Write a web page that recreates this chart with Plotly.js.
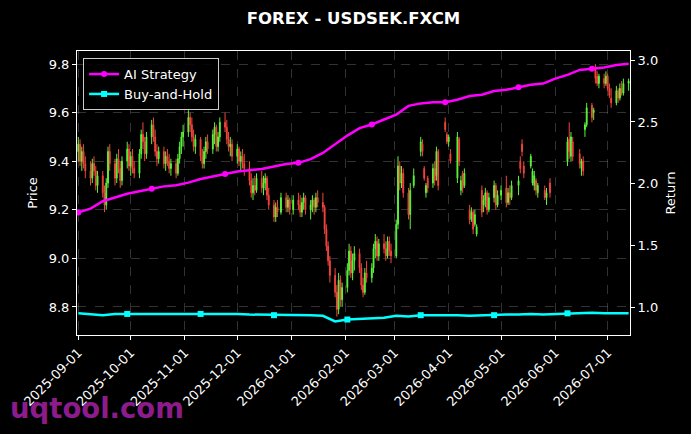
<!DOCTYPE html>
<html><head><meta charset="utf-8">
<script src="https://cdn.plot.ly/plotly-3.0.1.min.js"></script>
<style>html,body{margin:0;padding:0;background:#000;}</style>
</head><body><div id="chart" style="width:691px;height:434px;"></div>
<script>
// ---- Candle data (daily) ----
const dates = [
 '2025-09-01','2025-09-02','2025-09-03','2025-09-04','2025-09-05',
 '2025-09-08','2025-09-09','2025-09-10','2025-09-11','2025-09-12',
 '2025-09-15','2025-09-16','2025-09-17','2025-09-18','2025-09-19',
 '2025-09-22','2025-09-23','2025-09-24','2025-09-25','2025-09-26',
 '2025-09-29','2025-09-30','2025-10-01','2025-10-02','2025-10-03',
 '2025-10-06','2025-10-07','2025-10-08','2025-10-09','2025-10-10',
 '2025-10-13','2025-10-14','2025-10-15','2025-10-16','2025-10-17',
 '2025-10-20','2025-10-21','2025-10-22','2025-10-23','2025-10-24',
 '2025-10-27','2025-10-28','2025-10-29','2025-10-30','2025-10-31',
 '2025-11-03','2025-11-04','2025-11-05','2025-11-06','2025-11-07',
 '2025-11-10','2025-11-11','2025-11-12','2025-11-13','2025-11-14',
 '2025-11-17','2025-11-18','2025-11-19','2025-11-20','2025-11-21',
 '2025-11-24','2025-11-25','2025-11-26','2025-11-27','2025-11-28',
 '2025-12-01','2025-12-02','2025-12-03','2025-12-04','2025-12-05',
 '2025-12-08','2025-12-09','2025-12-10','2025-12-11','2025-12-12',
 '2025-12-15','2025-12-16','2025-12-17','2025-12-18','2025-12-19',
 '2025-12-22','2025-12-23','2025-12-24','2025-12-26',
 '2025-12-29','2025-12-30','2025-12-31','2026-01-02',
 '2026-01-05','2026-01-06','2026-01-07','2026-01-08','2026-01-09',
 '2026-01-12','2026-01-13','2026-01-14','2026-01-15','2026-01-16',
 '2026-01-19','2026-01-20','2026-01-21','2026-01-22','2026-01-23',
 '2026-01-26','2026-01-27','2026-01-28','2026-01-29','2026-01-30',
 '2026-02-02','2026-02-03','2026-02-04','2026-02-05','2026-02-06',
 '2026-02-09','2026-02-10','2026-02-11','2026-02-12','2026-02-13',
 '2026-02-16','2026-02-17','2026-02-18','2026-02-19','2026-02-20',
 '2026-02-23','2026-02-24','2026-02-25','2026-02-26','2026-02-27',
 '2026-03-02','2026-03-03','2026-03-04','2026-03-05','2026-03-06',
 '2026-03-09','2026-03-10','2026-03-12',
 '2026-03-16','2026-03-17','2026-03-18','2026-03-19','2026-03-20',
 '2026-03-23','2026-03-24','2026-03-25','2026-03-26',
 '2026-03-30','2026-03-31','2026-04-01','2026-04-02',
 '2026-04-06','2026-04-07','2026-04-08','2026-04-09','2026-04-10',
 '2026-04-13','2026-04-14','2026-04-15','2026-04-16','2026-04-17',
 '2026-04-20','2026-04-21','2026-04-22','2026-04-23','2026-04-24',
 '2026-04-27','2026-04-28','2026-04-29','2026-05-01',
 '2026-05-04','2026-05-05','2026-05-06','2026-05-07',
 '2026-05-11','2026-05-12','2026-05-13','2026-05-14',
 '2026-05-18','2026-05-19','2026-05-20','2026-05-21','2026-05-22',
 '2026-05-26','2026-05-27','2026-05-29',
 '2026-06-08','2026-06-09','2026-06-10','2026-06-11',
 '2026-06-15','2026-06-16','2026-06-17','2026-06-18','2026-06-19',
 '2026-06-22','2026-06-23','2026-06-24','2026-06-25','2026-06-26',
 '2026-06-29','2026-06-30','2026-07-01','2026-07-02','2026-07-03',
 '2026-07-06','2026-07-07','2026-07-08','2026-07-09','2026-07-10','2026-07-13'
];
const open = [
 9.44,9.47,9.40,9.44,9.39,
 9.36,9.33,9.39,9.36,9.30,
 9.34,9.27,9.22,9.31,9.44,
 9.39,9.33,9.41,9.37,9.32,
 9.40,9.45,9.38,9.42,9.37,
 9.35,9.43,9.51,9.48,9.43,
 9.50,9.55,9.50,9.44,9.41,
 9.44,9.39,9.42,9.40,9.37,
 9.39,9.35,9.41,9.46,9.50,
 9.52,9.58,9.55,9.50,9.46,
 9.49,9.42,9.39,9.44,9.48,
 9.45,9.51,9.54,9.46,9.50,
 9.56,9.54,9.49,9.46,9.47,
 9.42,9.45,9.40,9.42,9.39,
 9.37,9.32,9.27,9.30,9.28,
 9.33,9.29,9.31,9.33,9.26,
 9.22,9.17,9.21,9.19,
 9.25,9.21,9.24,9.20,
 9.24,9.22,9.19,9.23,9.25,
 9.20,9.22,9.24,9.21,9.25,
 9.23,9.21,9.12,9.05,8.99,
 8.93,8.86,8.79,8.91,8.83,
 8.88,8.95,9.03,8.94,8.99,
 9.02,8.96,8.89,8.86,8.94,
 8.92,8.96,9.04,9.07,9.01,
 9.06,9.04,9.01,9.07,9.03,
 9.01,9.14,9.38,9.31,9.35,
 9.27,9.18,9.30,
 9.44,9.47,9.37,9.27,9.33,
 9.31,9.37,9.34,9.44,
 9.56,9.51,9.48,9.43,
 9.33,9.49,9.28,9.35,9.30,
 9.20,9.16,9.19,9.14,9.10,
 9.28,9.22,9.24,9.27,9.20,
 9.25,9.30,9.22,9.26,
 9.29,9.23,9.27,9.25,
 9.30,9.40,9.47,9.38,
 9.38,9.31,9.30,9.32,9.27,
 9.28,9.25,9.31,
 9.40,9.49,9.42,9.48,
 9.43,9.37,9.40,9.53,9.55,
 9.63,9.60,9.78,9.75,9.72,
 9.74,9.72,9.75,9.70,9.66,
 9.64,9.69,9.66,9.70,9.68,9.72
];
const high = [
 9.50,9.49,9.46,9.47,9.42,
 9.40,9.41,9.42,9.38,9.36,
 9.36,9.30,9.33,9.46,9.47,
 9.41,9.43,9.45,9.40,9.42,
 9.48,9.47,9.44,9.45,9.40,
 9.45,9.53,9.56,9.50,9.52,
 9.57,9.58,9.53,9.47,9.46,
 9.46,9.44,9.45,9.43,9.41,
 9.41,9.43,9.48,9.52,9.55,
 9.61,9.60,9.58,9.53,9.51,
 9.50,9.45,9.46,9.50,9.51,
 9.53,9.56,9.55,9.52,9.58,
 9.60,9.57,9.52,9.50,9.49,
 9.47,9.46,9.44,9.45,9.43,
 9.40,9.35,9.33,9.34,9.35,
 9.36,9.34,9.35,9.34,9.29,
 9.24,9.23,9.24,9.27,
 9.27,9.26,9.25,9.26,
 9.27,9.26,9.25,9.27,9.26,
 9.24,9.26,9.25,9.27,9.28,
 9.27,9.22,9.14,9.07,9.01,
 8.96,8.89,8.94,8.93,8.90,
 8.98,9.06,9.05,9.02,9.05,
 9.04,8.98,8.92,8.96,8.99,
 8.98,9.06,9.10,9.09,9.08,
 9.10,9.07,9.09,9.09,9.06,
 9.16,9.42,9.40,9.38,9.37,
 9.29,9.31,9.37,
 9.50,9.49,9.38,9.31,9.34,
 9.39,9.40,9.46,9.45,
 9.58,9.52,9.51,9.45,
 9.52,9.50,9.34,9.36,9.37,
 9.22,9.21,9.20,9.20,9.14,
 9.30,9.26,9.29,9.28,9.27,
 9.32,9.31,9.28,9.30,
 9.34,9.29,9.30,9.32,
 9.34,9.42,9.49,9.40,
 9.43,9.37,9.36,9.33,9.31,
 9.30,9.29,9.33,
 9.50,9.56,9.52,9.50,
 9.45,9.41,9.42,9.56,9.64,
 9.64,9.62,9.80,9.77,9.76,
 9.76,9.77,9.76,9.72,9.70,
 9.71,9.70,9.72,9.73,9.74,9.74
];
const low = [
 9.40,9.38,9.36,9.37,9.33,
 9.30,9.31,9.34,9.28,9.27,
 9.25,9.19,9.20,9.29,9.36,
 9.30,9.31,9.35,9.29,9.30,
 9.37,9.36,9.34,9.35,9.33,
 9.33,9.41,9.45,9.40,9.41,
 9.47,9.48,9.42,9.38,9.39,
 9.37,9.36,9.38,9.35,9.34,
 9.33,9.34,9.39,9.43,9.46,
 9.50,9.52,9.48,9.44,9.43,
 9.40,9.37,9.37,9.41,9.43,
 9.43,9.47,9.44,9.44,9.48,
 9.52,9.47,9.44,9.42,9.40,
 9.39,9.38,9.36,9.37,9.34,
 9.30,9.25,9.24,9.26,9.27,
 9.27,9.26,9.28,9.24,9.20,
 9.15,9.15,9.17,9.18,
 9.19,9.19,9.18,9.18,
 9.20,9.17,9.17,9.20,9.18,
 9.16,9.19,9.18,9.19,9.21,
 9.19,9.10,9.03,8.97,8.90,
 8.84,8.76,8.77,8.80,8.80,
 8.86,8.93,8.92,8.91,8.95,
 8.94,8.87,8.84,8.85,8.90,
 8.90,8.94,9.00,8.99,8.99,
 9.02,8.99,9.00,9.01,8.98,
 9.00,9.12,9.28,9.29,9.25,
 9.16,9.12,9.29,
 9.42,9.42,9.32,9.25,9.27,
 9.29,9.30,9.32,9.28,
 9.52,9.47,9.46,9.39,
 9.31,9.38,9.26,9.27,9.29,
 9.14,9.15,9.10,9.13,9.09,
 9.17,9.19,9.21,9.18,9.19,
 9.23,9.20,9.21,9.24,
 9.21,9.22,9.22,9.24,
 9.26,9.35,9.42,9.33,
 9.37,9.30,9.28,9.26,9.25,
 9.24,9.22,9.25,
 9.38,9.41,9.40,9.40,
 9.37,9.34,9.34,9.50,9.54,
 9.56,9.57,9.72,9.71,9.70,
 9.70,9.71,9.69,9.66,9.62,
 9.63,9.64,9.65,9.67,9.67,9.69
];
const close = [
 9.47,9.40,9.44,9.39,9.36,
 9.33,9.39,9.36,9.30,9.34,
 9.27,9.22,9.31,9.44,9.39,
 9.33,9.41,9.37,9.32,9.40,
 9.45,9.38,9.42,9.37,9.35,
 9.43,9.51,9.48,9.43,9.50,
 9.55,9.50,9.44,9.41,9.44,
 9.39,9.42,9.40,9.37,9.39,
 9.35,9.41,9.46,9.50,9.52,
 9.58,9.55,9.50,9.46,9.49,
 9.42,9.39,9.44,9.48,9.45,
 9.51,9.54,9.46,9.50,9.56,
 9.54,9.49,9.46,9.47,9.42,
 9.45,9.40,9.42,9.39,9.37,
 9.32,9.27,9.30,9.28,9.33,
 9.29,9.31,9.33,9.26,9.22,
 9.17,9.21,9.19,9.25,
 9.21,9.24,9.20,9.24,
 9.22,9.19,9.23,9.25,9.20,
 9.22,9.24,9.21,9.25,9.23,
 9.21,9.12,9.05,8.99,8.93,
 8.86,8.79,8.91,8.83,8.88,
 8.95,9.03,8.94,8.99,9.02,
 8.96,8.89,8.86,8.94,8.92,
 8.96,9.04,9.07,9.01,9.06,
 9.04,9.01,9.07,9.03,9.01,
 9.14,9.38,9.31,9.35,9.27,
 9.18,9.28,9.34,
 9.48,9.44,9.33,9.30,9.29,
 9.37,9.32,9.44,9.30,
 9.53,9.48,9.50,9.40,
 9.50,9.40,9.32,9.29,9.35,
 9.16,9.19,9.12,9.18,9.13,
 9.19,9.24,9.27,9.20,9.25,
 9.30,9.22,9.26,9.28,
 9.23,9.27,9.25,9.30,
 9.32,9.37,9.44,9.35,
 9.42,9.36,9.34,9.28,9.30,
 9.25,9.27,9.27,
 9.48,9.44,9.50,9.42,
 9.39,9.40,9.36,9.55,9.62,
 9.58,9.61,9.74,9.72,9.75,
 9.72,9.75,9.70,9.67,9.64,
 9.69,9.66,9.70,9.68,9.72,9.73
];

// ---- Strategy returns (weekly) ----
const lineDates = [
 '2025-09-01','2025-09-08','2025-09-15','2025-09-22','2025-09-29','2025-10-06','2025-10-13','2025-10-20','2025-10-27',
 '2025-11-03','2025-11-10','2025-11-17','2025-11-24','2025-12-01','2025-12-08','2025-12-15','2025-12-22','2025-12-29',
 '2026-01-05','2026-01-12','2026-01-19','2026-01-26','2026-02-02','2026-02-09','2026-02-16','2026-02-23',
 '2026-03-02','2026-03-09','2026-03-16','2026-03-23','2026-03-30','2026-04-06','2026-04-13','2026-04-20','2026-04-27',
 '2026-05-04','2026-05-11','2026-05-18','2026-05-25','2026-06-01','2026-06-08','2026-06-15','2026-06-22','2026-06-29',
 '2026-07-06','2026-07-13'
];
const aiStrategy = [
 1.77,1.80,1.86,1.89,1.92,1.94,1.96,1.98,1.99,
 2.01,2.04,2.06,2.08,2.10,2.11,2.12,2.14,2.16,
 2.17,2.20,2.25,2.32,2.39,2.45,2.48,2.52,
 2.56,2.63,2.65,2.66,2.66,2.68,2.71,2.72,2.75,
 2.76,2.78,2.80,2.81,2.85,2.88,2.92,2.93,2.94,
 2.96,2.97
];
const buyHold = [
 0.955,0.950,0.940,0.950,0.950,0.955,0.955,0.950,0.950,
 0.955,0.950,0.955,0.955,0.950,0.945,0.945,0.940,0.940,
 0.940,0.940,0.935,0.890,0.905,0.910,0.915,0.920,
 0.935,0.930,0.940,0.940,0.945,0.940,0.935,0.940,0.940,
 0.945,0.945,0.950,0.945,0.950,0.955,0.960,0.960,0.955,
 0.955,0.955
];

// ---- Axis ticks ----
const monthTicks = ['2025-09-01','2025-10-01','2025-11-01','2025-12-01','2026-01-01','2026-02-01','2026-03-01','2026-04-01','2026-05-01','2026-06-01','2026-07-01'];
const priceTicks = [8.8, 9.0, 9.2, 9.4, 9.6, 9.8];
const returnTicks = [1.0, 1.5, 2.0, 2.5, 3.0];

const GREEN = '#5cf53c', RED = '#f5443c';
const traces = [
  {type:'candlestick', x:dates, open:open, high:high, low:low, close:close,
   increasing:{line:{color:GREEN, width:1}, fillcolor:GREEN},
   decreasing:{line:{color:RED, width:1}, fillcolor:RED},
   showlegend:false, hoverinfo:'skip', yaxis:'y', xaxis:'x'},
  {type:'scatter', mode:'lines+markers', name:'AI Strategy', x:lineDates, y:aiStrategy, yaxis:'y2',
   line:{color:'#ff00ff', width:2.5}, marker:{symbol:'circle', size:6, color:'#ff00ff', maxdisplayed:8}},
  {type:'scatter', mode:'lines+markers', name:'Buy-and-Hold', x:lineDates, y:buyHold, yaxis:'y2',
   line:{color:'#00ffff', width:2.5}, marker:{symbol:'square', size:6, color:'#00ffff', maxdisplayed:8}}
];

const gridC = 'rgba(130,130,130,0.55)';
const layout = {
  width:691, height:434,
  paper_bgcolor:'#000', plot_bgcolor:'#000',
  margin:{l:77, r:61, t:51, b:99},
  font:{family:'DejaVu Sans', size:13, color:'#ffffff'},
  title:{text:'<b>FOREX - USDSEK.FXCM</b>', font:{family:'DejaVu Sans', size:16.5, color:'#ffffff'},
         xref:'paper', x:0.5, xanchor:'center', yref:'container', y:1-18/434, yanchor:'middle'},
  showlegend:true,
  legend:{x:0.011, y:0.975, xanchor:'left', yanchor:'top', bgcolor:'rgba(0,0,0,0.85)',
          bordercolor:'#cccccc', borderwidth:1, font:{size:13, color:'#ffffff'}, tracegroupgap:0},
  xaxis:{type:'date', range:['2025-08-31 06:00','2026-07-13 19:00'],
         tickmode:'array', tickvals:monthTicks, ticktext:monthTicks, tickangle:-45,
         ticks:'outside', ticklen:4, tickcolor:'#fff', tickfont:{size:13, color:'#fff'},
         showline:true, linecolor:'#fff', linewidth:1, mirror:true,
         showgrid:true, gridcolor:gridC, griddash:'dash', gridwidth:0.7,
         zeroline:false, rangeslider:{visible:false}},
  yaxis:{range:[8.6845, 9.8536], tickmode:'array', tickvals:priceTicks, ticktext:priceTicks.map(v=>v.toFixed(1)),
         ticks:'outside', ticklen:4, tickcolor:'#fff', tickfont:{size:13, color:'#fff'},
         showline:true, linecolor:'#fff', linewidth:1, mirror:false,
         showgrid:true, gridcolor:gridC, griddash:'dash', gridwidth:0.7, zeroline:false,
         title:{text:'Price', font:{size:13, color:'#fff'}, standoff:8}},
  yaxis2:{overlaying:'y', side:'right', range:[0.78, 3.073], tickmode:'array', tickvals:returnTicks,
          ticktext:returnTicks.map(v=>v.toFixed(1)),
          ticks:'outside', ticklen:4, tickcolor:'#fff', tickfont:{size:13, color:'#fff'},
          showline:true, linecolor:'#fff', linewidth:1, showgrid:false, zeroline:false,
          title:{text:'Return', font:{size:13, color:'#fff'}, standoff:8}},
  annotations:[{text:'<b>uqtool.com</b>', xref:'paper', yref:'paper', x:0.0362, y:-0.257,
                xanchor:'center', yanchor:'middle', showarrow:false,
                font:{family:'DejaVu Sans', size:27.5, color:'#8c1c8c'}}]
};

Plotly.newPlot('chart', traces, layout, {displayModeBar:false, staticPlot:true});
</script></body></html>
